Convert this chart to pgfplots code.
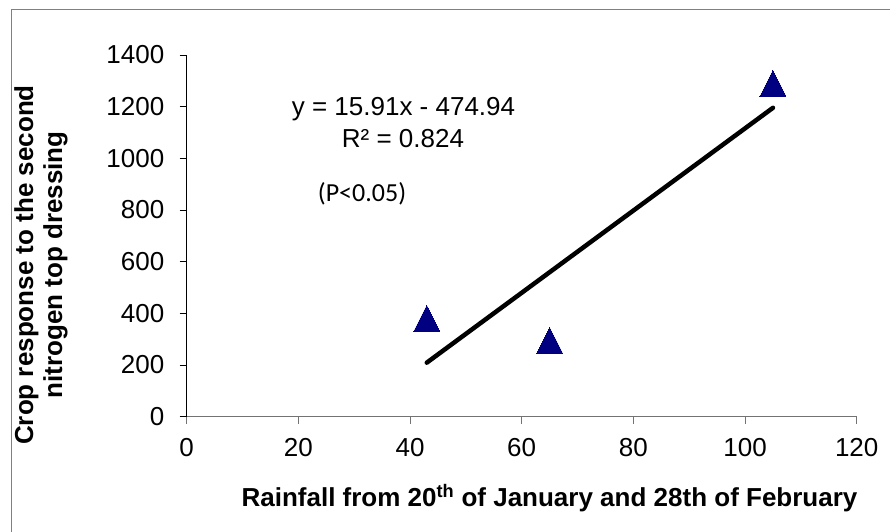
\documentclass[border=0pt]{standalone}
\usepackage{pgfplots}
\pgfplotsset{compat=1.18}
\usepackage{fontspec}
\setmainfont{Liberation Sans}
\newfontfamily\calibri{Carlito}
\definecolor{navy}{RGB}{0,0,128}
\definecolor{framegray}{RGB}{128,128,128}
\begin{document}
\begin{tikzpicture}
\useasboundingbox (0,0) rectangle (890pt,531pt);
\draw[framegray, line width=1pt] (11.5pt,-20pt) rectangle (910pt,521.7pt);
\begin{axis}[
  at={(186.7pt,114.3pt)}, anchor=south west,
  scale only axis, width=670pt, height=361.7pt,
  xmin=0, xmax=120, ymin=0, ymax=1400,
  xtick={0,20,...,120}, ytick={0,200,...,1400},
  axis x line=bottom, axis y line=left, axis line style={-},
  x axis line style={black!55},
  y axis line style={black},
  tick align=outside, major tick length=7pt,
  xtick style={black!55, line width=0.8pt},
  ytick style={black, line width=0.8pt},
  every axis/.append style={line width=0.8pt},
  tick label style={font=\fontsize{26}{31}\selectfont},
  /pgf/number format/assume math mode=true,
  /pgf/number format/1000 sep={},
  scaled ticks=false,
  xticklabel style={anchor=north, inner sep=0pt, yshift=-14pt},
  yticklabel style={anchor=east, inner sep=0pt, xshift=-15pt},
  xlabel={Rainfall from 20\textsuperscript{th} of January and 28th of February},
  xlabel style={at={(rel axis cs:0.5415,-0.2488)}, anchor=base, font=\bfseries\fontsize{26}{31}\selectfont},
  ylabel={Crop response to the second\\nitrogen top dressing},
  ylabel style={at={(rel axis cs:-0.1861,0.4194)}, anchor=base, rotate=0, align=center, font=\bfseries\fontsize{26}{29}\selectfont},
  clip=false,
]
\addplot[only marks, mark=triangle*, mark size=15pt,
  mark options={draw=navy, fill=navy, line width=0pt, yshift=-4.3pt, yscale=1.15}]
  coordinates {(43,380) (65,295) (105,1290)};
\addplot[black, line width=4.5pt, line cap=round] coordinates {(43,209.19) (105,1195.61)};
\node[anchor=base, font=\fontsize{26}{31}\selectfont] at (axis cs:38.83,1167.6) {y = 15.91x - 474.94};
\node[anchor=base, font=\fontsize{26}{31}\selectfont] at (axis cs:38.74,1043.7) {R² = 0.824};
\node[anchor=base, font=\calibri\fontsize{26}{31}\selectfont] at (axis cs:31.4,832) {(P<0.05)};
\end{axis}
\end{tikzpicture}
\end{document}
